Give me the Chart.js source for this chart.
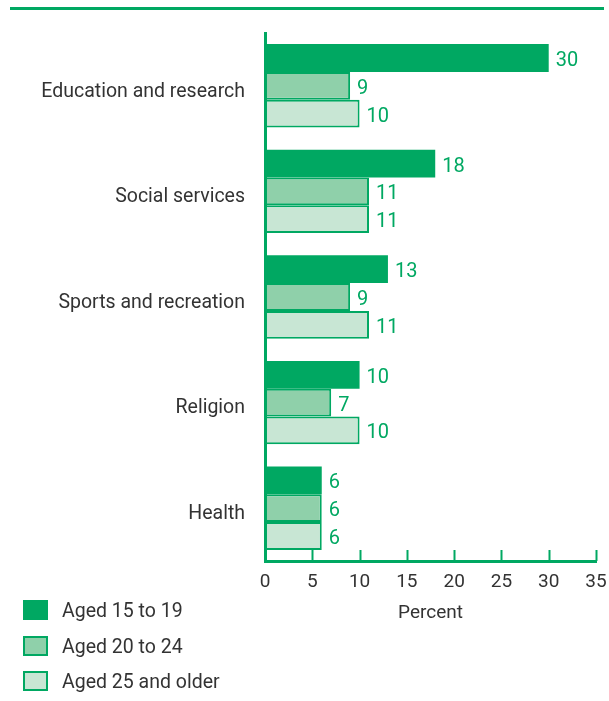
<!DOCTYPE html>
<html>
<head>
<meta charset="utf-8">
<script src="https://cdn.jsdelivr.net/npm/chart.js@4/dist/chart.umd.min.js"></script>
<style>
html,body{margin:0;padding:0;background:#fff;}
#wrap{position:relative;width:609px;height:701px;}
</style>
</head>
<body>
<div id="wrap"><canvas id="c" width="609" height="701"></canvas></div>
<script>
const categories = ["Education and research","Social services","Sports and recreation","Religion","Health"];
const aged15to19 = [30,18,13,10,6];
const aged20to24 = [9,11,9,7,6];
const aged25older = [10,11,11,10,6];
const seriesNames = ["Aged 15 to 19","Aged 20 to 24","Aged 25 and older"];
const xTicks = [0,5,10,15,20,25,30,35];

const GREEN = '#00a862';
const FILLS = [GREEN, '#8fd0aa', '#c8e6d4'];
const FONT = 'Roboto, "Liberation Sans", sans-serif';
const TEXT = '#333333';

const decor = {
  id:'decor',
  afterDraw(chart){
    const ctx = chart.ctx;
    const xs = chart.scales.x;
    ctx.save();
    ctx.fillStyle = GREEN;
    ctx.fillRect(10, 7, 594, 3);
    ctx.strokeStyle = GREEN;
    ctx.lineWidth = 2;
    const yb = chart.chartArea.bottom;
    xTicks.forEach(v=>{
      const px = Math.round(xs.getPixelForValue(v))+0.5;
      ctx.beginPath(); ctx.moveTo(px, yb); ctx.lineTo(px, yb-11); ctx.stroke();
    });
    ctx.fillStyle = GREEN;
    ctx.font = '20px ' + FONT;
    ctx.textBaseline = 'middle';
    ctx.textAlign = 'left';
    chart.data.datasets.forEach((ds,i)=>{
      const meta = chart.getDatasetMeta(i);
      meta.data.forEach((bar,j)=>{
        ctx.fillText(String(ds.data[j]), bar.x + 7, bar.y + 3);
      });
    });
    ctx.font = '19.5px ' + FONT;
    ctx.textBaseline = 'middle';
    const rows = [610, 646, 681];
    seriesNames.forEach((name,i)=>{
      const y = rows[i];
      ctx.fillStyle = FILLS[i];
      ctx.fillRect(23, y-10, 25, 20);
      if(i>0){
        ctx.strokeStyle = GREEN; ctx.lineWidth = 2;
        ctx.strokeRect(24, y-9, 23, 18);
      }
      ctx.fillStyle = TEXT;
      ctx.fillText(name, 62, y+2);
    });
    ctx.restore();
  }
};

new Chart(document.getElementById('c'), {
  type:'bar',
  data:{
    labels: categories,
    datasets:[
      {label:seriesNames[0], data:aged15to19, backgroundColor:FILLS[0], borderColor:GREEN, borderWidth:0},
      {label:seriesNames[1], data:aged20to24, backgroundColor:FILLS[1], borderColor:GREEN, borderWidth:2, borderSkipped:false},
      {label:seriesNames[2], data:aged25older, backgroundColor:FILLS[2], borderColor:GREEN, borderWidth:2, borderSkipped:false}
    ]
  },
  options:{
    indexAxis:'y',
    responsive:false,
    animation:false,
    devicePixelRatio:1,
    layout:{padding:{left:0, right:13, top:33, bottom:72}},
    datasets:{bar:{categoryPercentage:0.79, barPercentage:1.0}},
    plugins:{legend:{display:false}, tooltip:{enabled:false}},
    scales:{
      x:{
        min:0, max:35,
        afterBuildTicks(s){ s.ticks = xTicks.map(v=>({value:v})); },
        grid:{display:false, drawTicks:false},
        border:{display:true, color:GREEN, width:3},
        ticks:{color:TEXT, font:{family:FONT, size:19}, padding:10},
        title:{display:true, text:'Percent', color:TEXT, font:{family:FONT, size:19}, padding:{top:5}},
        afterFit(s){ s.height = 68; s.paddingRight = 0; s.paddingLeft = 0; }
      },
      y:{
        grid:{display:false, drawTicks:false},
        border:{display:true, color:GREEN, width:3},
        ticks:{color:TEXT, font:{family:FONT, size:19.5}, padding:20, labelOffset:6},
        afterFit(s){ s.width = 265; s.paddingTop = 0; s.paddingBottom = 0; }
      }
    }
  },
  plugins:[decor]
});
</script>
</body>
</html>
